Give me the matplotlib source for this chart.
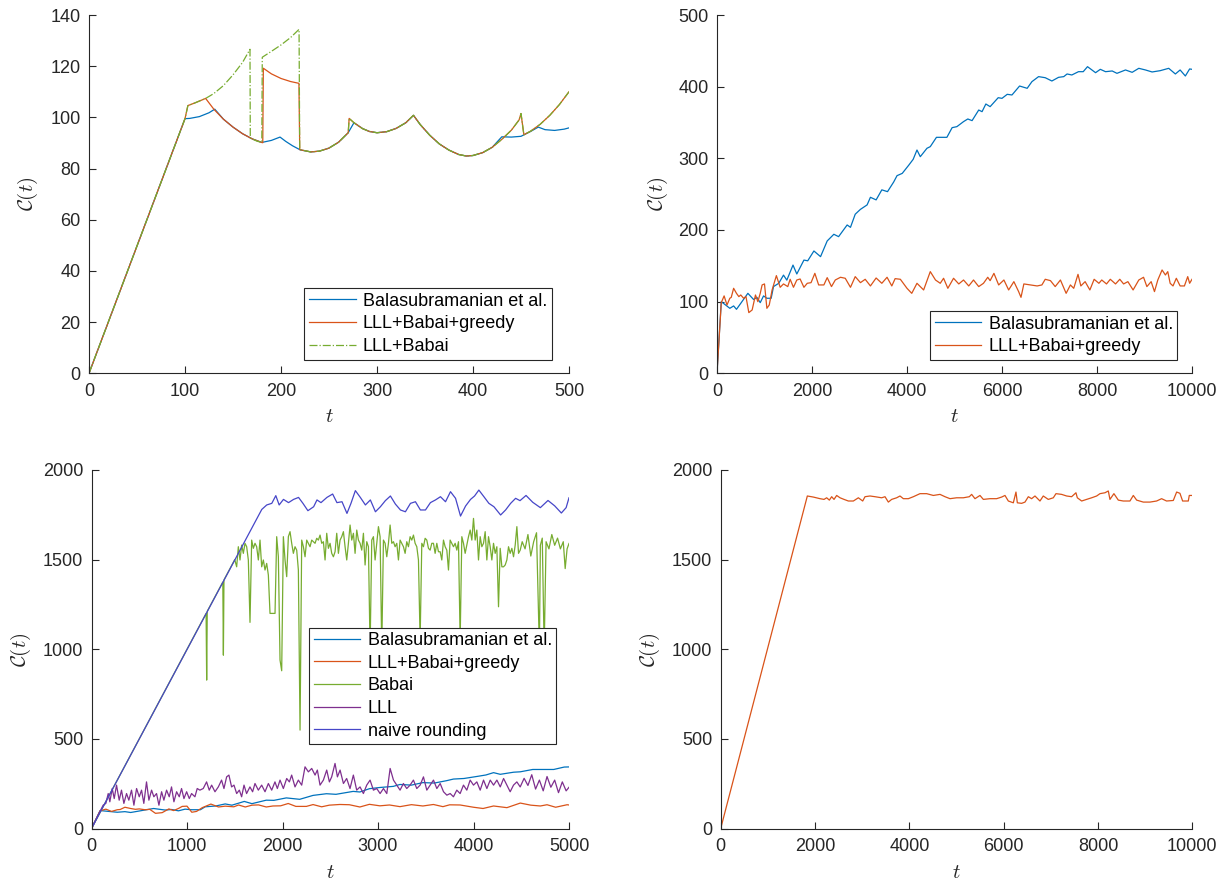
import numpy as np
import matplotlib
matplotlib.use("Agg")
import matplotlib.pyplot as plt

plt.rcParams["font.family"] = ["Liberation Sans", "DejaVu Sans"]
plt.rcParams["mathtext.fontset"] = "cm"

BLUE = "#0072BD"
ORANGE = "#D95319"
GREEN = "#77AC30"
PURPLE = "#7E2F8E"
NAIVE = "#4646C8"
DARK = "#262626"

# ---- panel 1: short run, t up to 500
bal1_t = [0, 100, 105, 115, 125, 131, 140, 150, 160, 170, 180, 190, 199, 205, 212, 220,
          231, 240, 250, 260, 270, 276, 285, 292, 300, 310, 320, 330, 338, 345, 355, 365,
          375, 385, 393, 400, 410, 420, 430, 440, 450, 460, 468, 475, 485, 495, 500]
bal1_v = [0, 99.5, 99.6, 100.3, 101.8, 103.2, 99.3, 96.2, 93.6, 91.6, 90.2, 91.0, 92.3, 90.6,
          88.9, 87.3, 86.5, 86.8, 88.0, 90.3, 94.0, 97.9, 95.6, 94.5, 94.0, 94.4, 95.7, 97.9,
          100.8, 97.2, 93.0, 89.6, 87.2, 85.5, 84.9, 85.1, 86.2, 88.3, 92.4, 92.3, 92.6, 94.5,
          96.2, 95.2, 94.9, 95.4, 95.9]

greedy1_t = [0, 100, 103, 110, 121.5, 130, 140, 150, 160, 170, 180, 181, 181.6, 190, 200, 210,
             218.7, 219.5, 231, 240, 250, 260, 270, 271, 276, 285, 292, 300, 310, 320, 330,
             338, 345, 355, 365, 375, 385, 393, 400, 410, 420, 430, 440, 448, 450, 453, 460,
             470, 480, 490, 500]
greedy1_v = [0, 99.5, 104.6, 105.6, 107.4, 103.2, 99.3, 96.2, 93.6, 91.6, 90.2, 90.1, 119.2,
             117.0, 115.2, 114.0, 113.3, 87.4, 86.5, 86.8, 88.0, 90.3, 94.0, 99.6, 97.9, 95.6,
             94.5, 94.0, 94.4, 95.7, 97.9, 100.8, 97.2, 93.0, 89.6, 87.2, 85.5, 84.9, 85.1,
             86.2, 88.3, 91.4, 95.0, 99.0, 101.5, 93.2, 94.6, 97.3, 100.8, 105.0, 110.0]

# LLL+Babai differs from the greedy run only before t=231
babai1_head_t = [0, 100, 103, 110, 121.5, 130, 140, 150, 160, 167.7, 168, 175, 180, 180.5,
                 190, 200, 210, 218.8, 219.5]
babai1_head_v = [0, 99.5, 104.6, 105.6, 107.4, 109.3, 112.4, 116.6, 121.5, 126.6, 91.9, 90.7,
                 90.2, 123.5, 125.8, 128.3, 131.2, 134.4, 87.4]

# ---- panel 2 (and first half of panel 3): long run, t up to 10000
bal2_t = [0, 90, 270, 350, 410, 490, 650, 770, 840, 910, 980, 1050, 1140, 1190, 1300, 1400,
          1470, 1600, 1680, 1830, 1910, 2040, 2180, 2320, 2460, 2560, 2740, 2810, 2910, 3020,
          3160, 3230, 3350, 3470, 3590, 3720, 3790, 3900, 4040, 4130, 4210, 4280, 4420, 4490,
          4620, 4840, 4950, 5050, 5190, 5280, 5370, 5510, 5580, 5660, 5750, 5920, 6000, 6110,
          6210, 6370, 6530, 6630, 6770, 6910, 7050, 7190, 7300, 7370, 7470, 7610, 7710, 7800,
          7970, 8070, 8180, 8320, 8420, 8600, 8740, 8880, 9020, 9160, 9330, 9510, 9650, 9750,
          9860, 9950, 10000]
bal2_v = [0, 100, 90.7, 94, 89.3, 96.7, 111.6, 103, 106, 98.6, 108, 104.7, 104.7, 121, 125.6,
          137, 130, 151, 138.6, 158, 157, 170.7, 162.8, 184.7, 194, 190.7, 207, 203.7, 222,
          228.8, 235, 245.6, 242, 256, 253.5, 267, 275.8, 279, 290.7, 298.6, 311.6, 302.3, 314,
          316.3, 329.3, 329.3, 342.8, 344.2, 351.2, 354.9, 352.6, 367.4, 365.1, 375.8, 372.1,
          384.6, 383.7, 389.3, 388.4, 400.9, 397.7, 407, 414, 412.5, 407.9, 413, 414, 417.7,
          416.3, 420.9, 420.9, 427.9, 419.5, 424.2, 420.9, 421.9, 418.6, 423.3, 420, 425.6,
          423.3, 420.5, 422.3, 425.6, 417.7, 423.3, 414.9, 424.7, 424.2]

greedy2_t = [0, 90, 150, 210, 270, 300, 350, 410, 460, 500, 560, 610, 670, 740, 810, 860, 910,
             950, 1000, 1050, 1100, 1160, 1250, 1330, 1400, 1490, 1540, 1610, 1680, 1750, 1830,
             1900, 1980, 2060, 2140, 2250, 2320, 2410, 2490, 2600, 2700, 2810, 2910, 3020, 3120,
             3230, 3350, 3470, 3580, 3680, 3750, 3860, 4000, 4100, 4210, 4350, 4490, 4600, 4700,
             4770, 4860, 4980, 5090, 5190, 5300, 5400, 5510, 5610, 5700, 5750, 5830, 5930, 6040,
             6140, 6250, 6350, 6400, 6460, 6600, 6740, 6840, 6910, 7020, 7120, 7230, 7350, 7440,
             7510, 7600, 7660, 7750, 7850, 7940, 8040, 8100, 8200, 8280, 8390, 8480, 8560, 8650,
             8760, 8880, 8980, 9050, 9140, 9210, 9280, 9370, 9440, 9490, 9540, 9600, 9670, 9750,
             9840, 9910, 9950, 10000]
greedy2_v = [0, 98.6, 108, 95.3, 104.7, 106, 118.6, 111.6, 107, 109.3, 104.7, 107, 84.7, 88.4,
             109.3, 100, 111.6, 123.3, 124.7, 90.7, 95.3, 116.3, 136.3, 120, 124.7, 121, 131.2,
             120, 130.2, 131.6, 120, 125.6, 126.5, 139.5, 123.3, 123.3, 133.5, 121, 130.2, 134,
             132.6, 120, 134.9, 126.5, 131.2, 121.9, 133, 125.6, 134, 121.9, 132.1, 131.2, 118.6,
             111.6, 125.6, 116.3, 141.9, 130.2, 125.6, 132.6, 118.6, 132.6, 124.7, 130.2, 121.9,
             130.2, 121, 125.6, 134, 129.3, 139.5, 123.3, 130.2, 116.3, 127.9, 114, 106, 124.7,
             123.3, 121.9, 123.3, 131.2, 129.3, 121, 130.2, 111.6, 123.3, 118.6, 138.1, 121.9,
             127.9, 116.3, 131.2, 125.6, 130.2, 124.7, 131.2, 124.7, 131.2, 124.7, 127.9, 116.3,
             130.2, 134, 121, 127.9, 114, 130.2, 144.2, 137.2, 141.9, 125.6, 121.9, 132.6, 121.9,
             121.9, 134.9, 125.6, 131.2]

# ---- panel 3: all methods, t up to 5000
naive_t = [0, 1783, 1835, 1888, 1930, 1965, 2010, 2063, 2116, 2168, 2214, 2266, 2326, 2361,
           2403, 2465, 2525, 2570, 2623, 2675, 2717, 2763, 2815, 2868, 2920, 2973, 3025, 3077,
           3130, 3182, 3235, 3287, 3340, 3392, 3444, 3497, 3549, 3602, 3654, 3707, 3759, 3812,
           3864, 3917, 3969, 4011, 4056, 4109, 4161, 4214, 4284, 4336, 4389, 4441, 4487, 4550,
           4620, 4700, 4780, 4850, 4920, 4970, 5000]
naive_v = [0, 1780, 1805, 1814, 1857, 1805, 1836, 1818, 1836, 1847, 1814, 1773, 1795, 1833,
           1818, 1847, 1866, 1818, 1823, 1758, 1814, 1885, 1847, 1805, 1833, 1767, 1795, 1829,
           1855, 1810, 1777, 1767, 1814, 1823, 1777, 1777, 1818, 1833, 1851, 1823, 1879, 1842,
           1743, 1799, 1836, 1855, 1888, 1851, 1814, 1795, 1749, 1777, 1814, 1842, 1829, 1858,
           1820, 1790, 1830, 1800, 1760, 1790, 1845]

babai3_head_t = [0, 1200, 1206, 1212, 1375, 1381, 1387, 1500]
babai3_head_v = [0, 1200, 828, 1212, 1375, 967, 1387, 1500]
# sampled evenly between t=1520 and t=4489
babai3_mid_v = [1460, 1572, 1498, 1581, 1535, 1591, 1572, 1498, 1150, 1609,
                1563, 1591, 1572, 1498, 1609, 1460, 1498, 1442, 1479, 1414,
                1200, 1200, 1200, 1200, 1628, 1516, 940, 880, 1628, 1498,
                1405, 1628, 1656, 1591, 1535, 1572, 1553, 1442, 549, 1609,
                1572, 1516, 1609, 1591, 1572, 1609, 1600, 1591, 1619, 1609,
                1637, 1591, 1600, 1498, 1647, 1563, 1591, 1535, 1516, 1544,
                1647, 1535, 1609, 1628, 1656, 1572, 1498, 1591, 1693, 1609,
                1647, 1535, 1665, 1609, 1591, 1553, 1647, 1470, 1600, 1572,
                1000, 1609, 1628, 1498, 1591, 1684, 1628, 1000, 1609, 1591,
                1516, 1591, 1693, 1591, 1600, 1572, 1591, 1498, 1609, 1591,
                1572, 1535, 1600, 1572, 1628, 1609, 1637, 1591, 1572, 1498,
                1050, 1591, 1572, 1619, 1609, 1563, 1553, 1591, 1591, 1535,
                1591, 1544, 1544, 1498, 1609, 1572, 1553, 1442, 1609, 1591,
                1572, 1591, 1553, 1600, 1050, 1628, 1591, 1535, 1581, 1628,
                1665, 1609, 1730, 1609, 1665, 1498, 1628, 1572, 1591, 1656,
                1498, 1628, 1572, 1498, 1591, 1535, 1572, 1237, 1563, 1460,
                1460, 1470, 1498, 1572, 1535, 1563, 1516, 1581, 1684, 1535, 1553]
babai3_tail_t = [4510, 4540, 4570, 4600, 4630, 4660, 4690, 4700, 4720, 4740, 4760, 4790, 4820,
                 4850, 4880, 4910, 4940, 4960, 4980, 5000]
babai3_tail_v = [1600, 1560, 1640, 1520, 1600, 1650, 1000, 1580, 1620, 1000, 1600, 1560, 1640,
                 1580, 1620, 1560, 1600, 1450, 1560, 1590]

lll_t = [0, 122, 150, 175, 192, 217, 238, 262, 290, 314, 339, 367, 391, 419, 444, 472, 500,
         524, 548, 576, 601, 629, 653, 681, 706, 734, 758, 786, 814, 838, 863, 891, 919, 943,
         968, 996, 1024, 1048, 1083, 1107, 1135, 1170, 1205, 1233, 1258, 1293, 1328, 1362,
         1387, 1415, 1439, 1467, 1492, 1520, 1548, 1572, 1597, 1624, 1659, 1687, 1712, 1747,
         1782, 1817, 1852, 1887, 1921, 1946, 1974, 2009, 2044, 2072, 2096, 2131, 2166, 2201,
         2236, 2271, 2306, 2341, 2365, 2393, 2428, 2463, 2491, 2515, 2550, 2575, 2603, 2638,
         2672, 2707, 2742, 2777, 2812, 2847, 2882, 2917, 2952, 2987, 3022, 3057, 3092, 3127,
         3162, 3196, 3231, 3266, 3301, 3336, 3371, 3406, 3441, 3476, 3511, 3546, 3581, 3616,
         3651, 3686, 3721, 3756, 3790, 3825, 3860, 3895, 3930, 3965, 4000, 4035, 4070, 4105,
         4140, 4175, 4210, 4245, 4280, 4315, 4349, 4384, 4419, 4454, 4489, 4530, 4570, 4610,
         4650, 4690, 4730, 4770, 4810, 4850, 4890, 4930, 4970, 5000]
lll_v = [0, 130, 140, 195, 149, 223, 167, 242, 158, 214, 140, 195, 158, 214, 130, 223, 177,
         214, 140, 260, 158, 214, 177, 195, 130, 205, 158, 214, 177, 232, 149, 205, 177, 223,
         167, 205, 167, 195, 177, 223, 214, 223, 260, 214, 242, 205, 232, 270, 223, 288, 298,
         232, 242, 195, 214, 177, 242, 195, 232, 205, 251, 214, 242, 205, 251, 214, 260, 223,
         270, 223, 279, 260, 298, 232, 270, 242, 344, 316, 335, 298, 326, 242, 270, 326, 260,
         288, 363, 288, 326, 251, 279, 223, 298, 214, 232, 195, 242, 270, 214, 223, 195, 223,
         195, 335, 270, 242, 214, 251, 223, 242, 270, 223, 242, 288, 214, 242, 270, 223, 251,
         205, 186, 195, 177, 214, 195, 242, 214, 270, 242, 260, 214, 270, 223, 270, 242, 270,
         232, 279, 242, 205, 242, 260, 232, 280, 240, 300, 220, 270, 210, 290, 230, 270, 200,
         260, 210, 230]

# ---- panel 4: greedy run with a larger problem, t up to 10000
big_t = [0, 1837, 1965, 2106, 2191, 2247, 2304, 2353, 2403, 2459, 2530, 2615, 2707, 2813,
         2919, 3011, 3060, 3166, 3272, 3413, 3484, 3555, 3625, 3731, 3802, 3873, 3979, 4085,
         4226, 4367, 4509, 4650, 4756, 4862, 5003, 5145, 5272, 5321, 5392, 5498, 5569, 5710,
         5851, 5957, 6028, 6099, 6205, 6261, 6290, 6381, 6452, 6523, 6593, 6664, 6770, 6840,
         6946, 7053, 7109, 7229, 7335, 7441, 7533, 7562, 7654, 7759, 7866, 7972, 8042, 8148,
         8219, 8254, 8338, 8431, 8537, 8678, 8749, 8820, 8961, 9102, 9243, 9349, 9455, 9597,
         9668, 9738, 9795, 9915, 9936, 10000]
big_v = [0, 1855, 1849, 1840, 1836, 1845, 1832, 1851, 1836, 1858, 1845, 1836, 1827, 1827,
         1845, 1827, 1851, 1855, 1851, 1845, 1851, 1821, 1836, 1845, 1855, 1840, 1840, 1851,
         1868, 1868, 1858, 1864, 1851, 1840, 1845, 1845, 1851, 1864, 1840, 1858, 1836, 1840,
         1840, 1849, 1858, 1827, 1817, 1877, 1817, 1814, 1821, 1851, 1840, 1855, 1827, 1855,
         1836, 1845, 1868, 1864, 1855, 1851, 1873, 1845, 1827, 1836, 1845, 1855, 1868, 1873,
         1883, 1836, 1868, 1832, 1827, 1827, 1858, 1832, 1821, 1821, 1827, 1840, 1827, 1830,
         1877, 1870, 1827, 1827, 1858, 1858]

babai1_t = babai1_head_t + greedy1_t[18:]
babai1_v = babai1_head_v + greedy1_v[18:]
babai3_mid_t = list(np.linspace(1520, 4489, len(babai3_mid_v)))
babai3_t = babai3_head_t + babai3_mid_t + babai3_tail_t
babai3_v = babai3_head_v + babai3_mid_v + babai3_tail_v

W, H = 1228, 881
fig = plt.figure(figsize=(W / 100, H / 100), dpi=100)


def px_axes(left, right, top, bottom):
    return fig.add_axes([left / W, 1 - bottom / H, (right - left) / W, (bottom - top) / H])


def style(ax, xmax, ymax, yticks, ylab_x, xticks):
    ax.set_xlim(0, xmax)
    ax.set_ylim(0, ymax)
    ax.set_xticks(xticks)
    ax.set_yticks(yticks)
    for s in ["top", "right"]:
        ax.spines[s].set_visible(False)
    for s in ["left", "bottom"]:
        ax.spines[s].set_color(DARK)
        ax.spines[s].set_linewidth(0.8)
    ax.tick_params(direction="in", length=5, width=0.8, colors=DARK, labelsize=13)
    ax.tick_params(axis="x", pad=7)
    ax.tick_params(axis="y", pad=6)
    ax.set_xlabel(r"$t$", fontsize=15, color=DARK)
    ax.set_ylabel(r"$\mathcal{C}(t)$", fontsize=15, color=DARK)
    ax.xaxis.set_label_coords(0.5, -0.095)
    ax.yaxis.set_label_coords(ylab_x, 0.5)


def legend(ax, x, y):
    leg = ax.legend(loc="upper left", bbox_to_anchor=(x / W, 1 - y / H),
                    bbox_transform=fig.transFigure, borderaxespad=0, fontsize=13,
                    handlelength=2.6, handletextpad=0.4, borderpad=0.25, labelspacing=0.31,
                    fancybox=False, framealpha=1)
    leg.get_frame().set_edgecolor(DARK)
    leg.get_frame().set_linewidth(0.8)


lw = 0.9

ax1 = px_axes(89, 569, 15, 373.3)
ax1.plot(bal1_t, bal1_v, color=BLUE, lw=lw, label="Balasubramanian et al.")
ax1.plot(greedy1_t, greedy1_v, color=ORANGE, lw=lw, label="LLL+Babai+greedy")
ax1.plot(babai1_t, babai1_v, color=GREEN, lw=lw, ls="-.", label="LLL+Babai")
style(ax1, 500, 140, np.arange(0, 141, 20), -0.102, np.arange(0, 501, 100))
legend(ax1, 304.3, 288.3)

ax2 = px_axes(717, 1192, 15, 373.3)
ax2.plot(bal2_t, bal2_v, color=BLUE, lw=lw, label="Balasubramanian et al.")
ax2.plot(greedy2_t, greedy2_v, color=ORANGE, lw=lw, label="LLL+Babai+greedy")
style(ax2, 10000, 500, np.arange(0, 501, 100), -0.099, np.arange(0, 10001, 2000))
legend(ax2, 930, 311)

ax3 = px_axes(91.5, 569, 470, 828.5)
ax3.plot(bal2_t, bal2_v, color=BLUE, lw=lw, label="Balasubramanian et al.")
ax3.plot(greedy2_t, greedy2_v, color=ORANGE, lw=lw, label="LLL+Babai+greedy")
ax3.plot(babai3_t, babai3_v, color=GREEN, lw=lw, label="Babai")
ax3.plot(lll_t, lll_v, color=PURPLE, lw=lw, label="LLL")
ax3.plot(naive_t, naive_v, color=NAIVE, lw=lw, label="naive rounding")
style(ax3, 5000, 2000, np.arange(0, 2001, 500), -0.1225, np.arange(0, 5001, 1000))
legend(ax3, 309, 627.7)

ax4 = px_axes(720.7, 1192.3, 470, 828.5)
ax4.plot(big_t, big_v, color=ORANGE, lw=lw)
style(ax4, 10000, 2000, np.arange(0, 2001, 500), -0.124, np.arange(0, 10001, 2000))

fig.savefig("out.png", dpi=100, facecolor="white")
